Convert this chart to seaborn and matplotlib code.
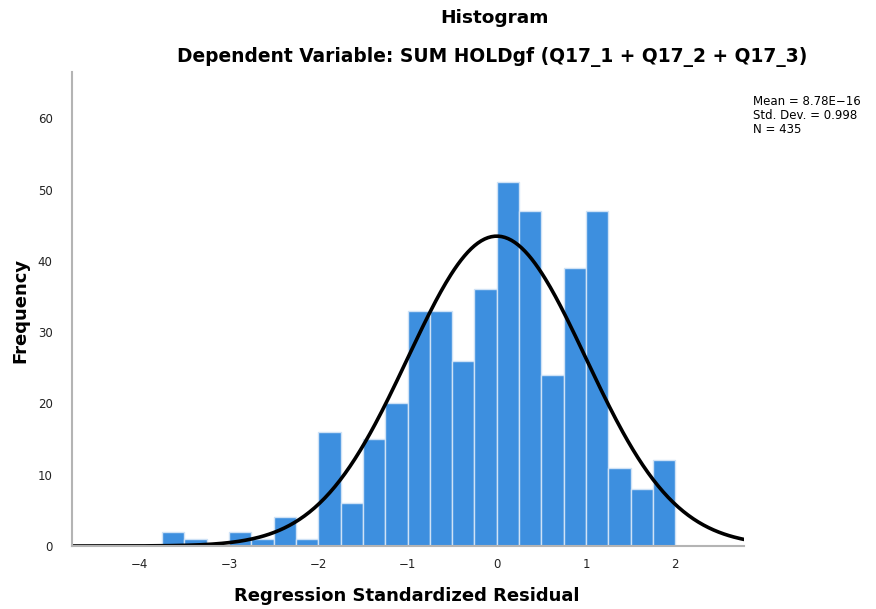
import numpy as np
import pandas as pd
import matplotlib
matplotlib.use("Agg")
import matplotlib.pyplot as plt
import seaborn as sns

# Histogram of regression standardized residuals (bin width 0.25)
bin_left_edges = [-3.75, -3.5, -3.25, -3.0, -2.75, -2.5, -2.25, -2.0, -1.75, -1.5,
                  -1.25, -1.0, -0.75, -0.5, -0.25, 0.0, 0.25, 0.5, 0.75, 1.0,
                  1.25, 1.5, 1.75]
frequencies = [2, 1, 0, 2, 1, 4, 1, 16, 6, 15,
               20, 33, 33, 26, 36, 51, 47, 24, 39, 47,
               11, 8, 12]
bin_width = 0.25

# Summary statistics of the residuals
resid_mean = 8.78e-16
resid_sd = 0.998
resid_n = 435

x_ticks = [-4, -3, -2, -1, 0, 1, 2]
y_ticks = [0, 10, 20, 30, 40, 50, 60]

sns.set_theme(style="white")
plt.rcParams["font.family"] = ["DejaVu Sans"]
plt.rcParams["text.color"] = "black"
plt.rcParams["axes.labelcolor"] = "black"

fig = plt.figure(figsize=(8.76, 6.09), dpi=100)
ax = fig.add_axes([72 / 876, 1 - 546 / 609, (744 - 72) / 876, (546 - 72) / 609])

hist_df = pd.DataFrame({
    "center": np.array(bin_left_edges) + bin_width / 2,
    "count": frequencies,
})
edges = list(bin_left_edges) + [bin_left_edges[-1] + bin_width]
sns.histplot(data=hist_df, x="center", weights="count", bins=edges, ax=ax,
             color="#3d8fdf", edgecolor="#cfe2f6", linewidth=1.0, alpha=1.0)

# Normal curve scaled to the histogram
x_lo, x_hi = -4.76, 2.77
xs = np.linspace(x_lo, x_hi, 400)
ys = resid_n * bin_width / (resid_sd * np.sqrt(2 * np.pi)) * np.exp(-0.5 * ((xs - resid_mean) / resid_sd) ** 2)
sns.lineplot(x=xs, y=ys, ax=ax, color="black", linewidth=2.6)

ax.set_xlim(x_lo, x_hi)
ax.set_ylim(0, 66.5)
ax.set_xticks(x_ticks)
ax.set_xticklabels([str(t).replace("-", "\u2212") for t in x_ticks])
ax.set_yticks(y_ticks)
ax.tick_params(axis="both", length=0, labelsize=8.5, colors="#222222")
ax.tick_params(axis="x", pad=9)
ax.tick_params(axis="y", pad=14)

for side in ["top", "right"]:
    ax.spines[side].set_visible(False)
for side in ["left", "bottom"]:
    ax.spines[side].set_color("#b4b4b4")
    ax.spines[side].set_linewidth(1.5)

ax.set_xlabel("Regression Standardized Residual", fontsize=13, fontweight="bold")
ax.set_ylabel("Frequency", fontsize=13, fontweight="bold")
ax.xaxis.set_label_coords((407 - 72) / (744 - 72), -(596 - 546) / (546 - 72))
ax.yaxis.set_label_coords(-(72 - 20) / (744 - 72), (546 - 310) / (546 - 72))
ax.xaxis.label.set_va("center")
ax.yaxis.label.set_va("center")

fig.text(494 / 876, 1 - 18 / 609, "Histogram", ha="center", va="center",
         fontsize=13.3, fontweight="bold")
fig.text(492 / 876, 1 - 57 / 609, "Dependent Variable: SUM HOLDgf (Q17_1 + Q17_2 + Q17_3)",
         ha="center", va="center", fontsize=13.4, fontweight="bold")

fig.text(753 / 876, 1 - 95 / 609,
         "Mean = 8.78E\u221216\nStd. Dev. = 0.998\nN = 435",
         ha="left", va="top", fontsize=8.5, linespacing=1.1)

fig.savefig("out.png", dpi=100)
